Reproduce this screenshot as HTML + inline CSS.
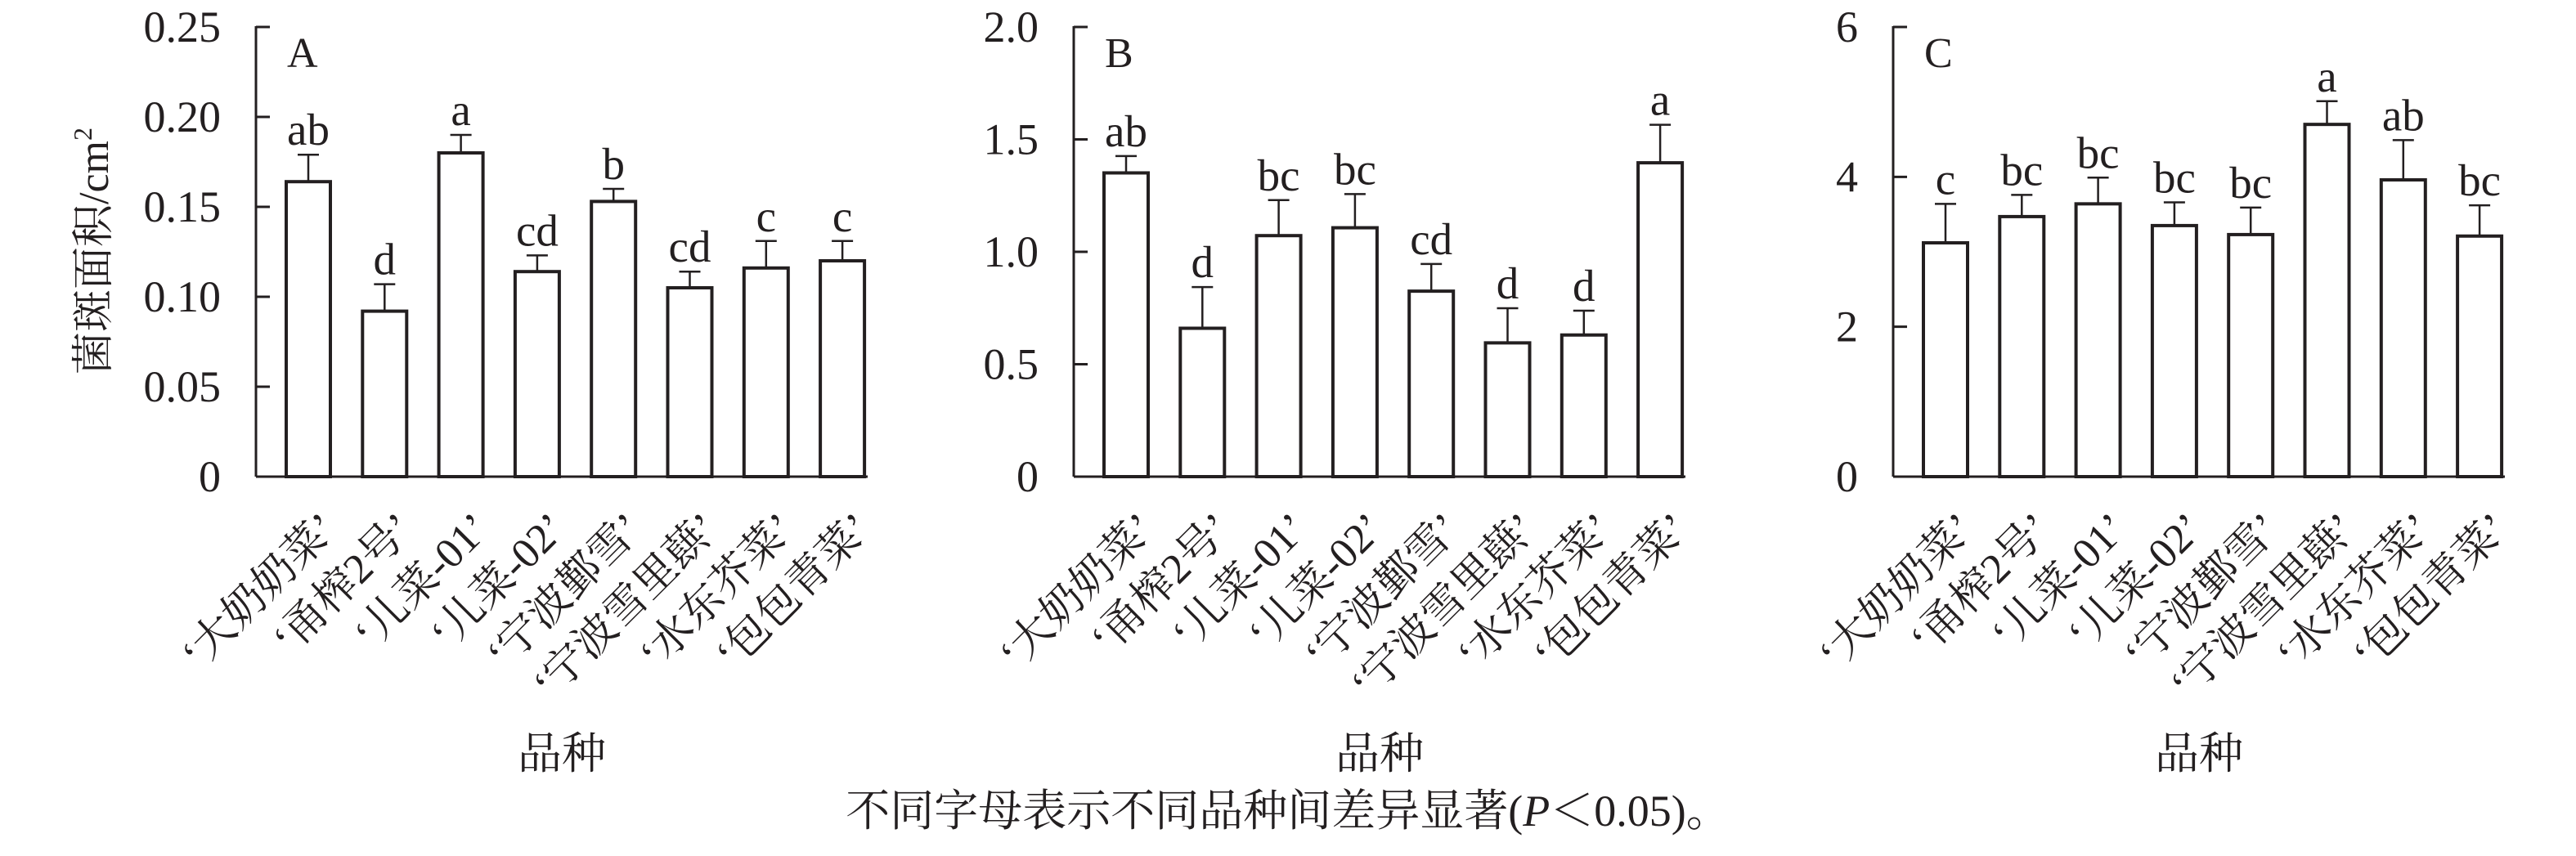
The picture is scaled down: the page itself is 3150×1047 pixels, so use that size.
<!DOCTYPE html>
<html><head><meta charset="utf-8"><style>
html,body{margin:0;padding:0;background:#fff;}
svg{display:block;}
text{fill:#231f20;}
.t{font-family:"Liberation Serif","Noto Serif CJK SC",serif;font-size:54px;}
.c{font-family:"Liberation Serif","Noto Serif CJK SC",serif;font-size:55px;}
.n{font-family:"Liberation Serif","Noto Serif CJK SC",serif;font-size:52px;}
</style></head><body>
<svg id="s" width="3150" height="1047" viewBox="0 0 3150 1047" xmlns="http://www.w3.org/2000/svg"></svg>
<script>
const S=document.getElementById('s');let h='';
const names=['‘大奶奶菜’','‘甬榨2号’','‘儿菜-01’','‘儿菜-02’','‘宁波鄞雪’','‘宁波雪里蕻’','‘水东芥菜’','‘包包青菜’'];
const P=[
{ax:313,L:'A',max:0.25,ticks:[[0,'0'],[0.05,'0.05'],[0.1,'0.10'],[0.15,'0.15'],[0.2,'0.20'],[0.25,'0.25']],
 v:[0.164,0.092,0.180,0.114,0.153,0.105,0.116,0.120],e:[0.179,0.107,0.190,0.123,0.160,0.114,0.131,0.131],
 l:['ab','d','a','cd','b','cd','c','c']},
{ax:1313,L:'B',max:2,ticks:[[0,'0'],[0.5,'0.5'],[1,'1.0'],[1.5,'1.5'],[2,'2.0']],
 v:[1.351,0.66,1.072,1.107,0.825,0.595,0.63,1.396],e:[1.426,0.843,1.23,1.257,0.946,0.749,0.738,1.565],
 l:['ab','d','bc','bc','cd','d','d','a']},
{ax:2315,L:'C',max:6,ticks:[[0,'0'],[2,'2'],[4,'4'],[6,'6']],
 v:[3.12,3.47,3.64,3.35,3.23,4.70,3.96,3.21],e:[3.64,3.76,3.99,3.66,3.59,5.01,4.49,3.62],
 l:['c','bc','bc','bc','bc','a','ab','bc']}];
const y0=583,yt=33;
P.forEach(p=>{
 const Y=v=>y0-(v/p.max)*(y0-yt);const a=p.ax;
 h+=`<line x1="${a}" y1="${yt-1}" x2="${a}" y2="${y0}" stroke="#231f20" stroke-width="3"/>`;
 h+=`<line x1="${a}" y1="${y0}" x2="${a+748}" y2="${y0}" stroke="#231f20" stroke-width="3"/>`;
 p.ticks.forEach(([v,s])=>{const y=Y(v);
  if(v>0)h+=`<line x1="${a}" y1="${y}" x2="${a+17}" y2="${y}" stroke="#231f20" stroke-width="3"/>`;
  h+=`<text class="t" x="${a-43}" y="${y+18}" text-anchor="end">${s}</text>`;});
 h+=`<text class="n" x="${a+38}" y="82">${p.L}</text>`;
 for(let i=0;i<8;i++){const x=a+35+93.3*i,cx=x+29;
  const yt2=Y(p.v[i]),ye=Y(p.e[i]);
  h+=`<line x1="${cx}" y1="${ye}" x2="${cx}" y2="${yt2}" stroke="#231f20" stroke-width="2.5"/>`;
  h+=`<line x1="${cx-13}" y1="${ye}" x2="${cx+13}" y2="${ye}" stroke="#231f20" stroke-width="2.5"/>`;
  h+=`<rect x="${x+2}" y="${yt2}" width="54" height="${y0-yt2}" fill="#fff" stroke="#231f20" stroke-width="4"/>`;
  h+=`<text class="c" x="${cx}" y="${ye-12}" text-anchor="middle">${p.l[i]}</text>`;
  h+=`<text class="n" transform="translate(${cx+38},${y0+66}) rotate(-45)" text-anchor="end">${names[i]}</text>`;
 }
 h+=`<text class="t" x="${a+374}" y="940" text-anchor="middle">品种</text>`;
});
h+=`<text class="n" transform="translate(132,307) rotate(-90)" text-anchor="middle">菌斑面积/cm<tspan font-size="32" dy="-20">2</tspan></text>`;
h+=`<text class="t" x="1575" y="1010" text-anchor="middle">不同字母表示不同品种间差异显著(<tspan font-style="italic">P</tspan>＜0.05)。</text>`;
S.innerHTML=h;
</script>
</body></html>
